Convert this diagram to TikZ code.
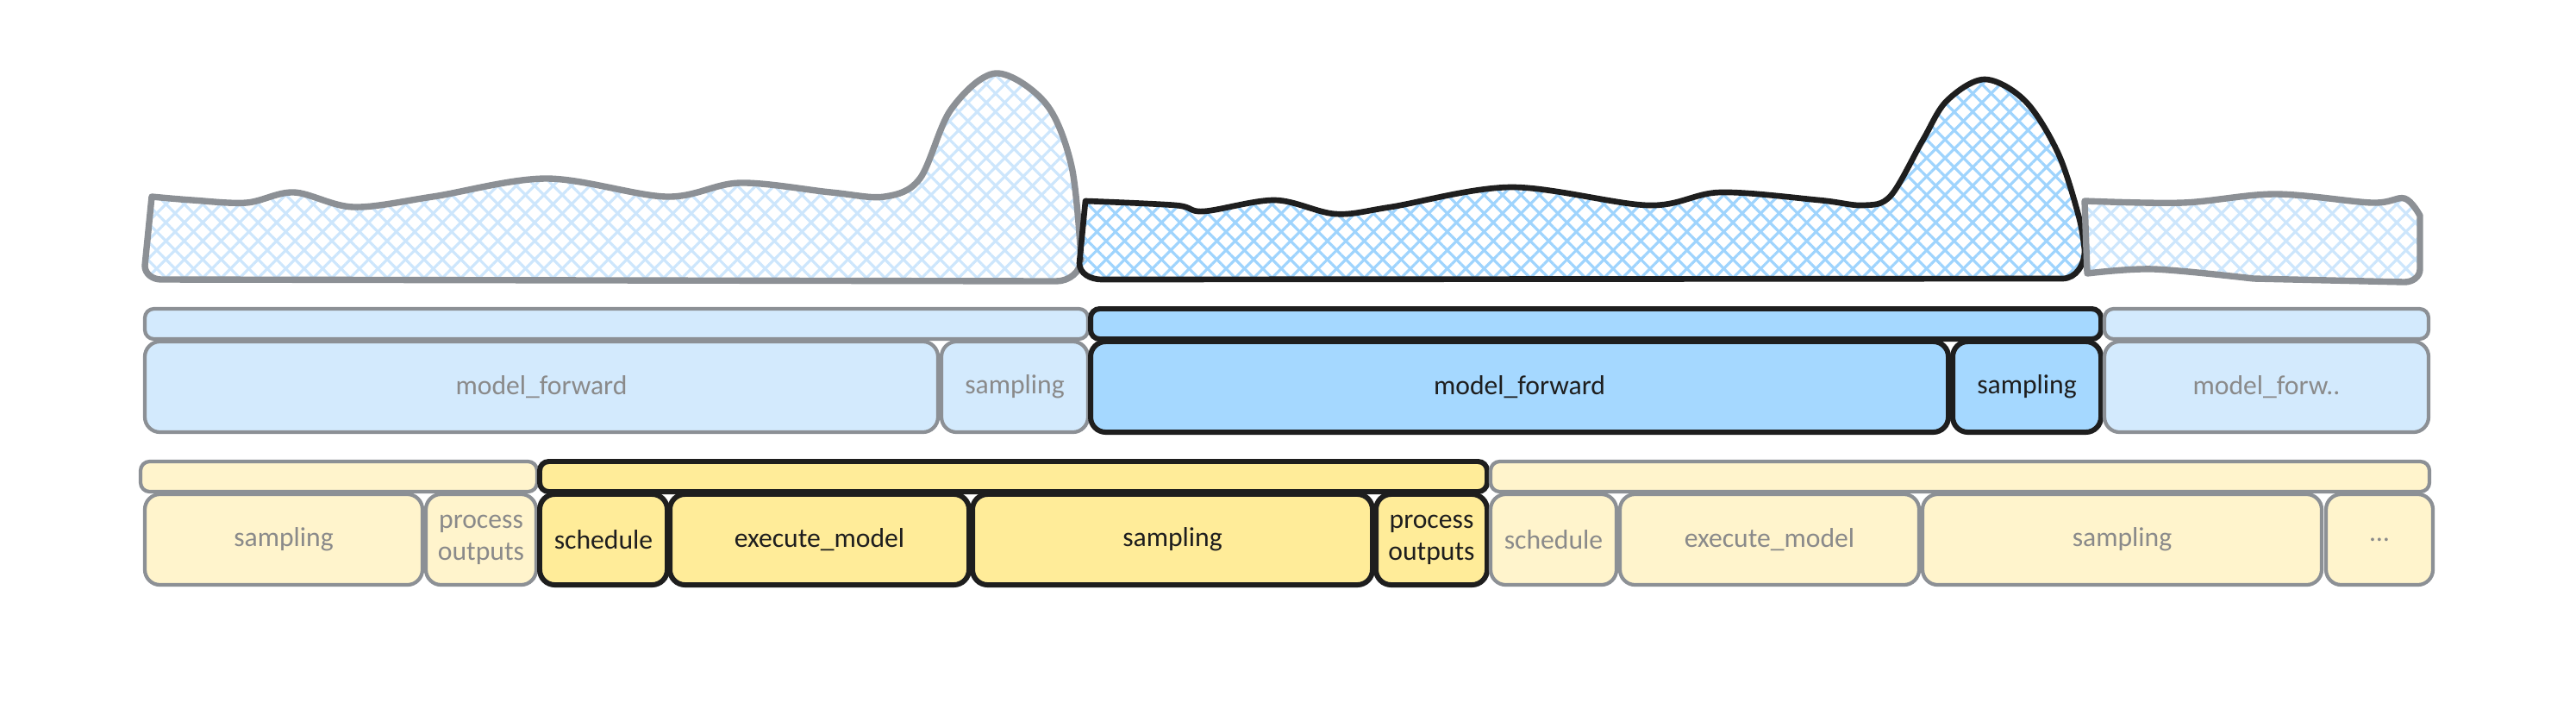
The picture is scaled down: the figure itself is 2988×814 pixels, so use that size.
\documentclass[tikz,border=0pt]{standalone}
\usepackage{fontspec}
\setmainfont{Carlito}
\usetikzlibrary{patterns.meta}
\definecolor{bluedim}{HTML}{D3EAFD}
\definecolor{blueact}{HTML}{A5D8FF}
\definecolor{yeldim}{HTML}{FFF4CC}
\definecolor{yelact}{HTML}{FFEC99}
\definecolor{linedim}{HTML}{8C9095}
\definecolor{lineact}{HTML}{1E1E1E}
\definecolor{textdim}{HTML}{8A8A8A}
\definecolor{hatchdim}{HTML}{CDE6FC}
\definecolor{hatchact}{HTML}{9FD4FD}

\tikzset{
  blk/.style={draw, rounded corners=5pt, inner sep=0pt, align=center, font=\fontsize{9}{10.5}\selectfont},
  dimblk/.style={blk, draw=linedim, line width=1.2pt, text=textdim},
  actblk/.style={blk, draw=lineact, line width=1.7pt, text=lineact},
  bar/.style={minimum height=0.35cm, rounded corners=3pt},
  cell/.style={minimum height=1.05cm},
  hatch/.style={preaction={pattern={Lines[angle=45,distance=4.3pt,line width=0.9pt]}, pattern color=#1},
    pattern={Lines[angle=-45,distance=4.3pt,line width=0.9pt]}, pattern color=#1},
}

\begin{document}
\begin{tikzpicture}[x=0.01cm,y=-0.01cm]
\useasboundingbox (0,0) rectangle (2988,814);

% load curves
\draw[linedim, line width=2.1pt, line join=round, hatch=hatchdim] plot[smooth, tension=0.55] coordinates {
  (176,228) (223,232) (286,235) (341,223) (410,240) (502,228) (634,207) (773,228)
  (858,212) (964,223) (1026,228) (1067,207) (1103,127) (1155,85) (1213,120) (1243,193) (1254,300)}
  to[out=-90,in=0] (1225,326) -- (187,324) to[out=180,in=-90] (168,308) -- cycle;
\draw[lineact, line width=1.9pt, line join=round, hatch=hatchact] plot[smooth, tension=0.55] coordinates {
  (1259,233) (1364,238) (1396,245) (1479,232) (1549,248) (1613,240) (1753,217)
  (1912,238) (1995,223) (2110,232) (2161,238) (2193,227) (2230,163) (2258,117) (2302,92)
  (2349,117) (2387,177) (2411,250) (2418,290)}
  to[out=-90,in=0] (2392,323) -- (1278,324) to[out=180,in=-90] (1252,305) -- cycle;
\draw[linedim, line width=2.1pt, line join=round, hatch=hatchdim] plot[smooth, tension=0.55] coordinates {
  (2418,233) (2532,235) (2639,225) (2751,235) (2789,230) (2807,250)}
  -- (2807,312) to[out=-90,in=0] (2789,327)
  -- plot[smooth, tension=0.55] coordinates {(2614,323) (2498,312) (2421,317)} -- cycle;

% gpu row
\foreach \nm/\st/\fl/\cx/\w in {ba/dimblk/bluedim/715/1094, bb/actblk/blueact/1851/1172, bc/dimblk/bluedim/2629/376}
  \node[\st, bar, fill=\fl, minimum width=\w*0.01cm] (\nm) at (\cx,375.5) {};
\foreach \nm/\st/\fl/\cx/\w/\txt in {mfa/dimblk/bluedim/628/920/model\_forward,
    sma/dimblk/bluedim/1177/170/sampling, mfb/actblk/blueact/1762.5/995/model\_forward,
    smb/actblk/blueact/2351/172/sampling, mfc/dimblk/bluedim/2629/376/{model\_forw..}}
  \node[\st, cell, fill=\fl, minimum width=\w*0.01cm] (\nm) at (\cx,448.5) {\txt};

% cpu row
\foreach \nm/\st/\fl/\cx/\w in {ya/dimblk/yeldim/393/460, yb/actblk/yelact/1175.5/1099, yc/dimblk/yeldim/2273.5/1089}
  \node[\st, bar, fill=\fl, minimum width=\w*0.01cm] (\nm) at (\cx,552.5) {};
\foreach \nm/\st/\fl/\cx/\w/\txt in {spa/dimblk/yeldim/329/322/sampling,
    poa/dimblk/yeldim/558/128/process\\outputs, sca/actblk/yelact/700/148/schedule,
    exa/actblk/yelact/950.5/347/execute\_model, spb/actblk/yelact/1360/464/sampling,
    pob/actblk/yelact/1660.5/129/process\\outputs, scb/dimblk/yeldim/1802/146/schedule,
    exb/dimblk/yeldim/2052.5/347/execute\_model, spc/dimblk/yeldim/2461.5/463/sampling,
    dts/dimblk/yeldim/2760/124/\ldots}
  \node[\st, cell, fill=\fl, minimum width=\w*0.01cm] (\nm) at (\cx,625.5) {\txt};
\end{tikzpicture}
\end{document}
